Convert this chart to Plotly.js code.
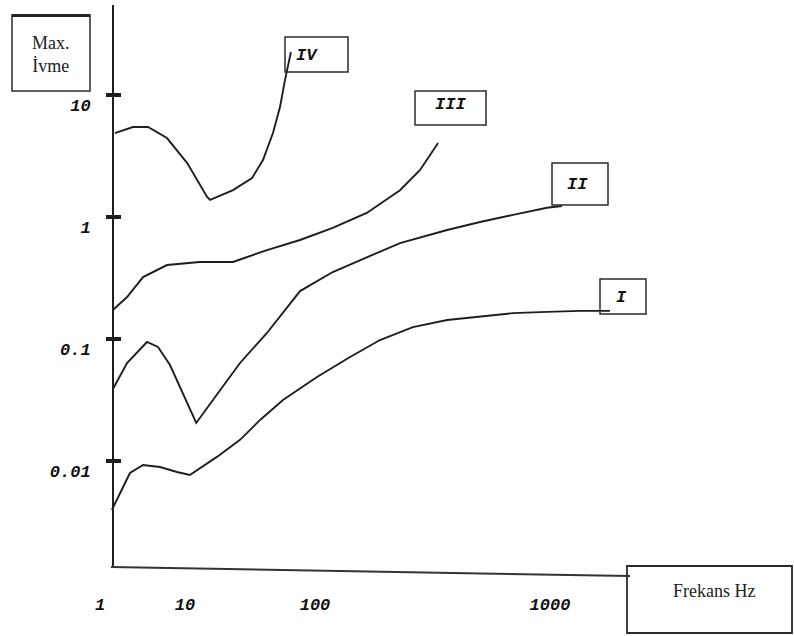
<!DOCTYPE html>
<html>
<head>
<meta charset="utf-8">
<script src="https://cdn.plot.ly/plotly-3.0.1.min.js"></script>
<style>
  html, body { margin: 0; padding: 0; background: #ffffff; }
  #chart { width: 794px; height: 636px; }
</style>
</head>
<body>
<div id="chart"></div>
<script>
// Frequency (Hz) and peak acceleration for the four response curves
const freqI   = [1.38, 1.72, 2.25, 3.21, 5.08, 8.05, 10.9, 17.6, 26.5, 37.8, 56.7, 102, 141, 189, 261, 365, 504, 696, 971, 1342, 1800];
const accI    = [0.00397, 0.00547, 0.00797, 0.00927, 0.00893, 0.00812, 0.00768, 0.0108, 0.0149, 0.0217, 0.0316, 0.0488, 0.0712, 0.0981, 0.125, 0.143, 0.152, 0.163, 0.167, 0.170, 0.170];

const freqII  = [1.42, 2.08, 3.57, 4.81, 6.66, 9.47, 12.2, 16.4, 26.5, 42.7, 76.7, 119, 166, 230, 365, 504, 696, 971, 1125];
const accII   = [0.0389, 0.0636, 0.0945, 0.086, 0.0612, 0.0361, 0.0205, 0.0316, 0.0636, 0.112, 0.247, 0.354, 0.47, 0.612, 0.782, 0.91, 1.04, 1.19, 1.23];

const freqIII = [1.42, 2.08, 3.21, 6.14, 13.0, 23.4, 42.7, 76.7, 119, 166, 230, 280, 334];
const accIII  = [0.173, 0.221, 0.322, 0.404, 0.428, 0.428, 0.536, 0.648, 0.813, 1.08, 1.66, 2.43, 4.04];

const freqIV  = [1.5, 2.44, 3.67, 6.14, 10.4, 14.8, 15.6, 23.4, 32.8, 39.8, 47.5, 53.8, 58.8, 65.3];
const accIV   = [4.88, 5.47, 5.47, 4.44, 2.77, 1.46, 1.38, 1.66, 2.09, 2.93, 4.88, 7.97, 13.3, 22.5];

const curveNames = ['I', 'II', 'III', 'IV'];

const freqTicks    = [1, 10, 100, 1000];
const freqTickText = ['1', '10', '100', '1000'];
const accTicks     = [0.01, 0.1, 1, 10];
const accTickText  = ['0.01', '0.1', '1', '10'];

const yTitleText = 'Max.<br>İvme';
const xTitleText = 'Frekans Hz';

// The hand-drawn frequency axis has unequal decade widths; map Hz onto it
const decadeWidths = [85, 130, 235];
function freqPos(hz) {
  const L = Math.log10(hz);
  if (L <= 1) return decadeWidths[0] * L;
  if (L <= 2) return decadeWidths[0] + decadeWidths[1] * (L - 1);
  return decadeWidths[0] + decadeWidths[1] + decadeWidths[2] * (L - 2);
}

// Page geometry helpers (pixel -> paper fraction)
const W = 794, H = 636;
const M = { l: 95, r: 164, t: 5, b: 69 };
const PW = W - M.l - M.r, PH = H - M.t - M.b;
const px = x => (x - M.l) / PW;
const py = y => (H - M.b - y) / PH;

const ink = '#1e1e1e';
const lineStyle = { color: ink, width: 1.9 };

const series = [
  { f: freqI,   a: accI,   ax: 'y'  },
  { f: freqII,  a: accII,  ax: 'y'  },
  { f: freqIII, a: accIII, ax: 'y'  },
  { f: freqIV,  a: accIV,  ax: 'y2' }
];

const traces = series.map((s, i) => ({
  type: 'scatter',
  mode: 'lines',
  name: curveNames[i],
  x: s.f.map(freqPos),
  y: s.a,
  yaxis: s.ax,
  line: lineStyle,
  hoverinfo: 'skip'
}));

const tickFont = { family: 'Liberation Mono, DejaVu Sans Mono, monospace', size: 17, color: '#111', weight: 700, style: 'italic' };
const yAxisPos = px(113);
const yRange = [-2.869, 1.738];

function box(x0, y0, x1, y1, w) {
  return {
    type: 'rect', xref: 'paper', yref: 'paper',
    x0: px(x0), x1: px(x1), y0: py(y1), y1: py(y0),
    line: { color: '#2a2a2a', width: w || 1.5 },
    fillcolor: 'rgba(0,0,0,0)'
  };
}

function label(text, x, y, font) {
  return {
    xref: 'paper', yref: 'paper', x: px(x), y: py(y),
    xanchor: 'center', yanchor: 'middle',
    text: text, showarrow: false, font: font
  };
}

const serifFont = { family: 'Liberation Serif, Times New Roman, serif', size: 18, color: '#222' };
const tagFont = { family: 'Liberation Mono, DejaVu Sans Mono, monospace', size: 17, color: '#111', weight: 700, style: 'italic' };

const layout = {
  width: W, height: H,
  margin: M,
  paper_bgcolor: '#ffffff',
  plot_bgcolor: '#ffffff',
  showlegend: false,
  hovermode: false,
  xaxis: {
    type: 'linear',
    range: [freqPos(1) - 5, freqPos(1) - 5 + PW],
    showgrid: false, zeroline: false, showline: false,
    ticks: '',
    tickvals: freqTicks.map(freqPos),
    ticktext: freqTickText,
    tickfont: tickFont,
    ticklabelstandoff: 25
  },
  yaxis: {
    type: 'log',
    range: yRange,
    anchor: 'free', position: yAxisPos,
    showgrid: false, zeroline: false,
    showline: true, linecolor: ink, linewidth: 2,
    ticks: 'outside', ticklen: 6, tickwidth: 4, tickcolor: ink,
    tickvals: accTicks, ticktext: accTickText,
    tickfont: tickFont,
    ticklabelstandoff: 12,
    ticklabelshift: 10
  },
  yaxis2: {
    type: 'log',
    range: yRange,
    overlaying: 'y',
    anchor: 'free', position: yAxisPos,
    side: 'left',
    showgrid: false, zeroline: false, showline: false,
    ticks: 'inside', ticklen: 7, tickwidth: 4, tickcolor: ink,
    tickvals: accTicks, showticklabels: false
  },
  shapes: [
    // frequency axis line (drawn slightly slanted, as on the sheet)
    { type: 'line', xref: 'paper', yref: 'paper', x0: px(111), y0: py(567), x1: px(630), y1: py(576),
      line: { color: '#333', width: 2 } },
    box(12, 15, 90, 91, 1.5),
    { type: 'line', xref: 'paper', yref: 'paper', x0: px(12), y0: py(15.5), x1: px(90), y1: py(15.5),
      line: { color: '#222', width: 3 } },
    box(627, 566, 792, 633, 1.8),
    box(285, 37, 348, 72),
    box(415, 91, 486, 125),
    box(552, 163, 608, 205),
    box(600, 279, 646, 314)
  ],
  annotations: [
    label(yTitleText, 51, 54, serifFont),
    label(xTitleText, 714, 591, serifFont),
    label(curveNames[3], 307, 55, tagFont),
    label(curveNames[2], 450, 104, tagFont),
    label(curveNames[1], 577, 184, tagFont),
    label(curveNames[0], 621, 297, tagFont)
  ]
};

Plotly.newPlot('chart', traces, layout, { staticPlot: true, displayModeBar: false });
</script>
</body>
</html>
